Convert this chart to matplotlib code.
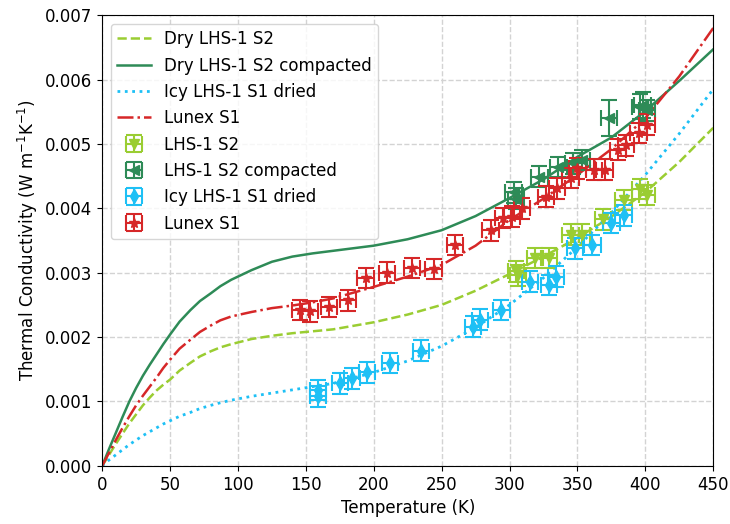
import numpy as np
import matplotlib.pyplot as plt

# model curves (T in K, k in W m-1 K-1)
curve_T = [0, 5, 10, 15, 20, 25, 30, 35, 40, 45, 50, 57, 65, 72, 80, 87, 95, 110, 125,
           140, 155, 170, 200, 225, 250, 275, 300, 325, 350, 375, 400, 425, 450]
dry_s2 = [0, 0.00017, 0.00034, 0.0005, 0.00066, 0.0008, 0.00094, 0.00106, 0.00117,
          0.00126, 0.00134, 0.00148, 0.0016, 0.0017, 0.00178, 0.00184, 0.00189, 0.00197,
          0.00202, 0.00206, 0.00209, 0.00212, 0.00223, 0.00235, 0.0025, 0.00272,
          0.00298, 0.00325, 0.00354, 0.00387, 0.00425, 0.00472, 0.00525]
dry_s2_comp = [0, 0.00026, 0.00051, 0.00076, 0.001, 0.00121, 0.0014, 0.00157, 0.00173,
               0.00189, 0.00204, 0.00224, 0.00242, 0.00256, 0.00268, 0.00279, 0.00289,
               0.00304, 0.00317, 0.00325, 0.0033, 0.00334, 0.00342, 0.00352, 0.00366,
               0.00388, 0.00416, 0.00445, 0.0048, 0.0051, 0.00551, 0.00598, 0.00647]
icy_s1 = [0, 0.00009, 0.00017, 0.00025, 0.00033, 0.0004, 0.00047, 0.00053, 0.00059,
          0.00065, 0.0007, 0.00077, 0.00083, 0.00089, 0.00094, 0.00098, 0.00102, 0.00108,
          0.00113, 0.00118, 0.00123, 0.00128, 0.00145, 0.00163, 0.00186, 0.00215,
          0.0025, 0.00292, 0.0034, 0.00393, 0.00452, 0.00516, 0.00585]
lunex = [0, 0.0002, 0.0004, 0.00059, 0.00077, 0.00094, 0.00109, 0.00123, 0.00137,
         0.00152, 0.00165, 0.00182, 0.00196, 0.00208, 0.00218, 0.00226, 0.00232, 0.00239,
         0.00245, 0.00249, 0.00254, 0.0026, 0.00278, 0.00294, 0.00312, 0.00342,
         0.00382, 0.00415, 0.00452, 0.00492, 0.0054, 0.00605, 0.0068]

# measurements
s2_T = [305, 306, 319, 329, 345, 353, 369, 384, 396, 401]
s2_k = [0.00302, 0.00296, 0.00323, 0.00323, 0.00359, 0.00359, 0.00383, 0.00413, 0.00430, 0.00421]

comp_T = [303, 305, 322, 336, 347, 353, 373, 396, 398, 401]
comp_k = [0.00425, 0.00415, 0.00449, 0.00464, 0.00470, 0.00475, 0.00540, 0.00558, 0.00561, 0.00552]
comp_err = [0.00016, 0.00016, 0.00016, 0.00016, 0.00016, 0.00016, 0.00028, 0.0002, 0.0002, 0.00016]

icy_T = [159, 159, 175, 184, 195, 212, 235, 273, 278, 294, 315, 329, 334, 348, 361, 375, 384]
icy_k = [0.00118, 0.00108, 0.00128, 0.00136, 0.00145, 0.00160, 0.00179, 0.00216, 0.00227,
         0.00242, 0.00286, 0.00281, 0.00294, 0.00338, 0.00343, 0.00377, 0.00389]

lun_T = [146, 153, 167, 181, 194, 210, 228, 244, 260, 286, 295, 302, 309, 327, 335, 345,
         350, 362, 370, 380, 386, 395, 401]
lun_k = [0.00242, 0.00240, 0.00247, 0.00257, 0.00292, 0.00300, 0.00307, 0.00306, 0.00343,
         0.00366, 0.00385, 0.00387, 0.00400, 0.00418, 0.00431, 0.00447, 0.00462, 0.00460,
         0.00460, 0.00491, 0.00498, 0.00517, 0.00530]

c_lime = '#9acd32'
c_green = '#2e8b57'
c_blue = '#1ec0f5'
c_red = '#d62728'

plt.rcParams['font.size'] = 12
fig = plt.figure(figsize=(7.3, 5.24), dpi=100)
ax = fig.add_axes([0.14, 0.111, 0.837, 0.86])

ax.plot(curve_T, dry_s2, '--', color=c_lime, lw=1.8, label='Dry LHS-1 S2')
ax.plot(curve_T, dry_s2_comp, '-', color=c_green, lw=1.8, label='Dry LHS-1 S2 compacted')
ax.plot(curve_T, icy_s1, ':', color=c_blue, lw=2, label='Icy LHS-1 S1 dried')
ax.plot(curve_T, lunex, '-.', color=c_red, lw=1.8, label='Lunex S1')

eb = dict(ls='none', capsize=6, elinewidth=1.5, capthick=1.5, ms=7, xerr=6)
ax.errorbar(s2_T, s2_k, yerr=0.00016, marker='v', color=c_lime, label='LHS-1 S2', **eb)
ax.errorbar(comp_T, comp_k, yerr=comp_err, marker='<', color=c_green,
            label='LHS-1 S2 compacted', **eb)
ax.errorbar(icy_T, icy_k, yerr=0.00016, marker='d', color=c_blue,
            label='Icy LHS-1 S1 dried', **eb)
ax.errorbar(lun_T, lun_k, yerr=0.00016, marker='*', color=c_red, label='Lunex S1', **eb)

ax.set_xlim(0, 450)
ax.set_ylim(0, 0.007)
ax.set_yticks(np.arange(0, 0.0071, 0.001))
ax.yaxis.set_major_formatter(plt.FormatStrFormatter('%.3f'))
ax.grid(True, ls='--', color='#d3d3d3', lw=1)
ax.set_axisbelow(True)
ax.set_xlabel('Temperature (K)')
ax.set_ylabel('Thermal Conductivity (W m$^{-1}$K$^{-1}$)')
ax.legend(loc='upper left', fontsize=12)

fig.savefig('out.png', dpi=100)
